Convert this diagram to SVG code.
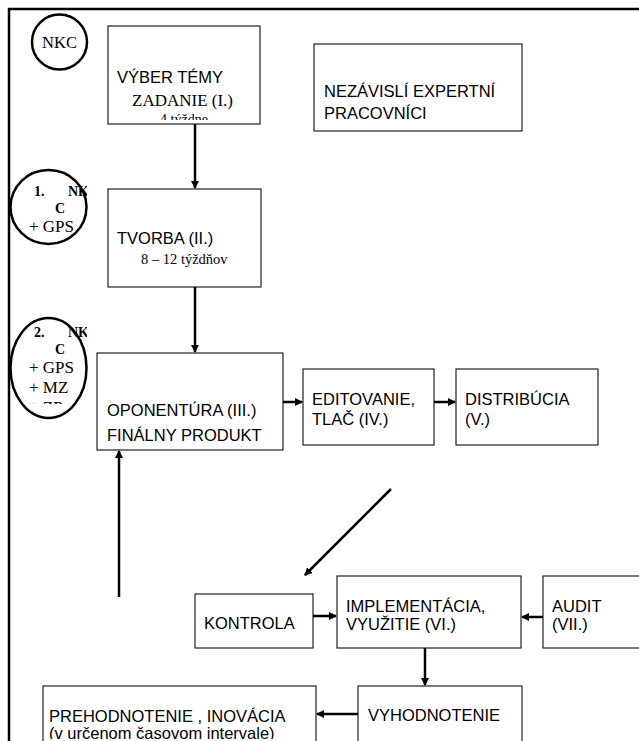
<svg xmlns="http://www.w3.org/2000/svg" width="639" height="741" viewBox="0 0 639 741">
<style>
.box{fill:#fff;stroke:#222;stroke-width:1.2}
.ell{fill:none;stroke:#000;stroke-width:2.5}
.a{font-family:"Liberation Sans",Arial,sans-serif;font-size:16.5px;fill:#000}
.t{font-family:"Liberation Serif","Times New Roman",serif;fill:#000}
.b{font-weight:bold;font-size:14px}
.c{stroke:#000;stroke-width:2.5;fill:none}
</style>
<defs>
<marker id="ah" markerWidth="8" markerHeight="8" refX="7" refY="4" orient="auto" markerUnits="userSpaceOnUse">
<path d="M0,0 L8,4 L0,8 Z" fill="#000"/>
</marker>
<clipPath id="cb1"><rect x="108" y="26" width="152" height="94"/></clipPath>
<clipPath id="cc1"><rect x="10" y="168" width="77" height="80"/></clipPath>
<clipPath id="cc2"><rect x="10" y="318" width="77" height="86"/></clipPath>
<clipPath id="cp"><rect x="43" y="686" width="273" height="53"/></clipPath>
</defs>
<g id="frame"><path d="M9,741 V9 H639" fill="none" stroke="#000" stroke-width="2.5"/></g>
<g id="nkc"><circle class="ell" cx="59.5" cy="42" r="27.5"/><text class="t" x="59.5" y="48" font-size="16.5" text-anchor="middle">NKC</text></g>
<g id="nkc1"><ellipse class="ell" cx="48.5" cy="207" rx="38" ry="37"/>
<g clip-path="url(#cc1)" class="t"><text class="b" x="34" y="196">1.</text><text class="b" x="68" y="196">NK</text><text class="b" x="55" y="213">C</text><text x="29" y="232" font-size="17">+ GPS</text></g></g>
<g id="nkc2"><ellipse class="ell" cx="48.5" cy="368" rx="38" ry="50"/>
<g clip-path="url(#cc2)" class="t"><text class="b" x="34" y="337">2.</text><text class="b" x="68" y="337">NK</text><text class="b" x="55" y="354">C</text><text x="29" y="373" font-size="17">+ GPS</text><text x="29" y="393" font-size="17">+ MZ</text><text x="29" y="413" font-size="17">+ ZP</text></g></g>
<g id="b1"><rect class="box" x="108" y="26" width="152" height="98"/>
<text class="a" x="117" y="83">VÝBER TÉMY</text><text class="t" x="132" y="106" font-size="17">ZADANIE  (I.)</text>
<text class="t" x="184" y="124" font-size="14" text-anchor="middle" clip-path="url(#cb1)">4 týždne</text></g>
<g id="nez"><rect class="box" x="314" y="44" width="208" height="87"/><text class="a" x="324" y="97">NEZÁVISLÍ EXPERTNÍ</text><text class="a" x="324" y="119">PRACOVNÍCI</text></g>
<g id="b2"><rect class="box" x="108" y="189" width="153" height="98"/><text class="a" x="117" y="244">TVORBA (II.)</text><text class="t" x="141" y="264" font-size="14.5">8 – 12 týždňov</text></g>
<g id="b3"><rect class="box" x="97" y="353" width="186" height="97"/><text class="a" x="107" y="416">OPONENTÚRA (III.)</text><text class="a" x="107" y="441">FINÁLNY PRODUKT</text></g>
<g id="b4"><rect class="box" x="303" y="369" width="131" height="76"/><text class="a" x="312" y="405">EDITOVANIE,</text><text class="a" x="312" y="425">TLAČ (IV.)</text></g>
<g id="b5"><rect class="box" x="456" y="369" width="142" height="76"/><text class="a" x="465" y="405">DISTRIBÚCIA</text><text class="a" x="465" y="425">(V.)</text></g>
<g id="kon"><rect class="box" x="195" y="594" width="118" height="54"/><text class="a" x="204" y="629">KONTROLA</text></g>
<g id="imp"><rect class="box" x="337" y="576" width="184" height="72"/><text class="a" x="346" y="612">IMPLEMENTÁCIA,</text><text class="a" x="346" y="630">VYUŽITIE (VI.)</text></g>
<g id="aud"><rect class="box" x="543" y="576" width="110" height="72"/><text class="a" x="552" y="612">AUDIT</text><text class="a" x="552" y="630">(VII.)</text></g>
<g id="vyh"><rect class="box" x="358" y="686" width="164" height="60"/><text class="a" x="368" y="721">VYHODNOTENIE</text></g>
<g id="pre"><rect class="box" x="43" y="686" width="273" height="60"/>
<g clip-path="url(#cp)"><text class="a" x="49" y="722" font-size="17">PREHODNOTENIE , INOVÁCIA</text><text class="a" x="49" y="739">(v určenom časovom intervale)</text></g></g>
<g id="connectors">
<line class="c" x1="195" y1="124" x2="195" y2="188" marker-end="url(#ah)"/>
<line class="c" x1="195" y1="287" x2="195" y2="352" marker-end="url(#ah)"/>
<line class="c" x1="283" y1="402" x2="302" y2="402" marker-end="url(#ah)"/>
<line class="c" x1="434" y1="402" x2="455" y2="402" marker-end="url(#ah)"/>
<line class="c" x1="391" y1="489" x2="305" y2="575" marker-end="url(#ah)"/>
<line class="c" x1="119" y1="597" x2="119" y2="451" marker-end="url(#ah)"/>
<line class="c" x1="313" y1="616" x2="336" y2="616" marker-end="url(#ah)"/>
<line class="c" x1="543" y1="617" x2="522" y2="617" marker-end="url(#ah)"/>
<line class="c" x1="425" y1="648" x2="425" y2="685" marker-end="url(#ah)"/>
<line class="c" x1="358" y1="714" x2="317" y2="714" marker-end="url(#ah)"/>
</g>
</svg>
